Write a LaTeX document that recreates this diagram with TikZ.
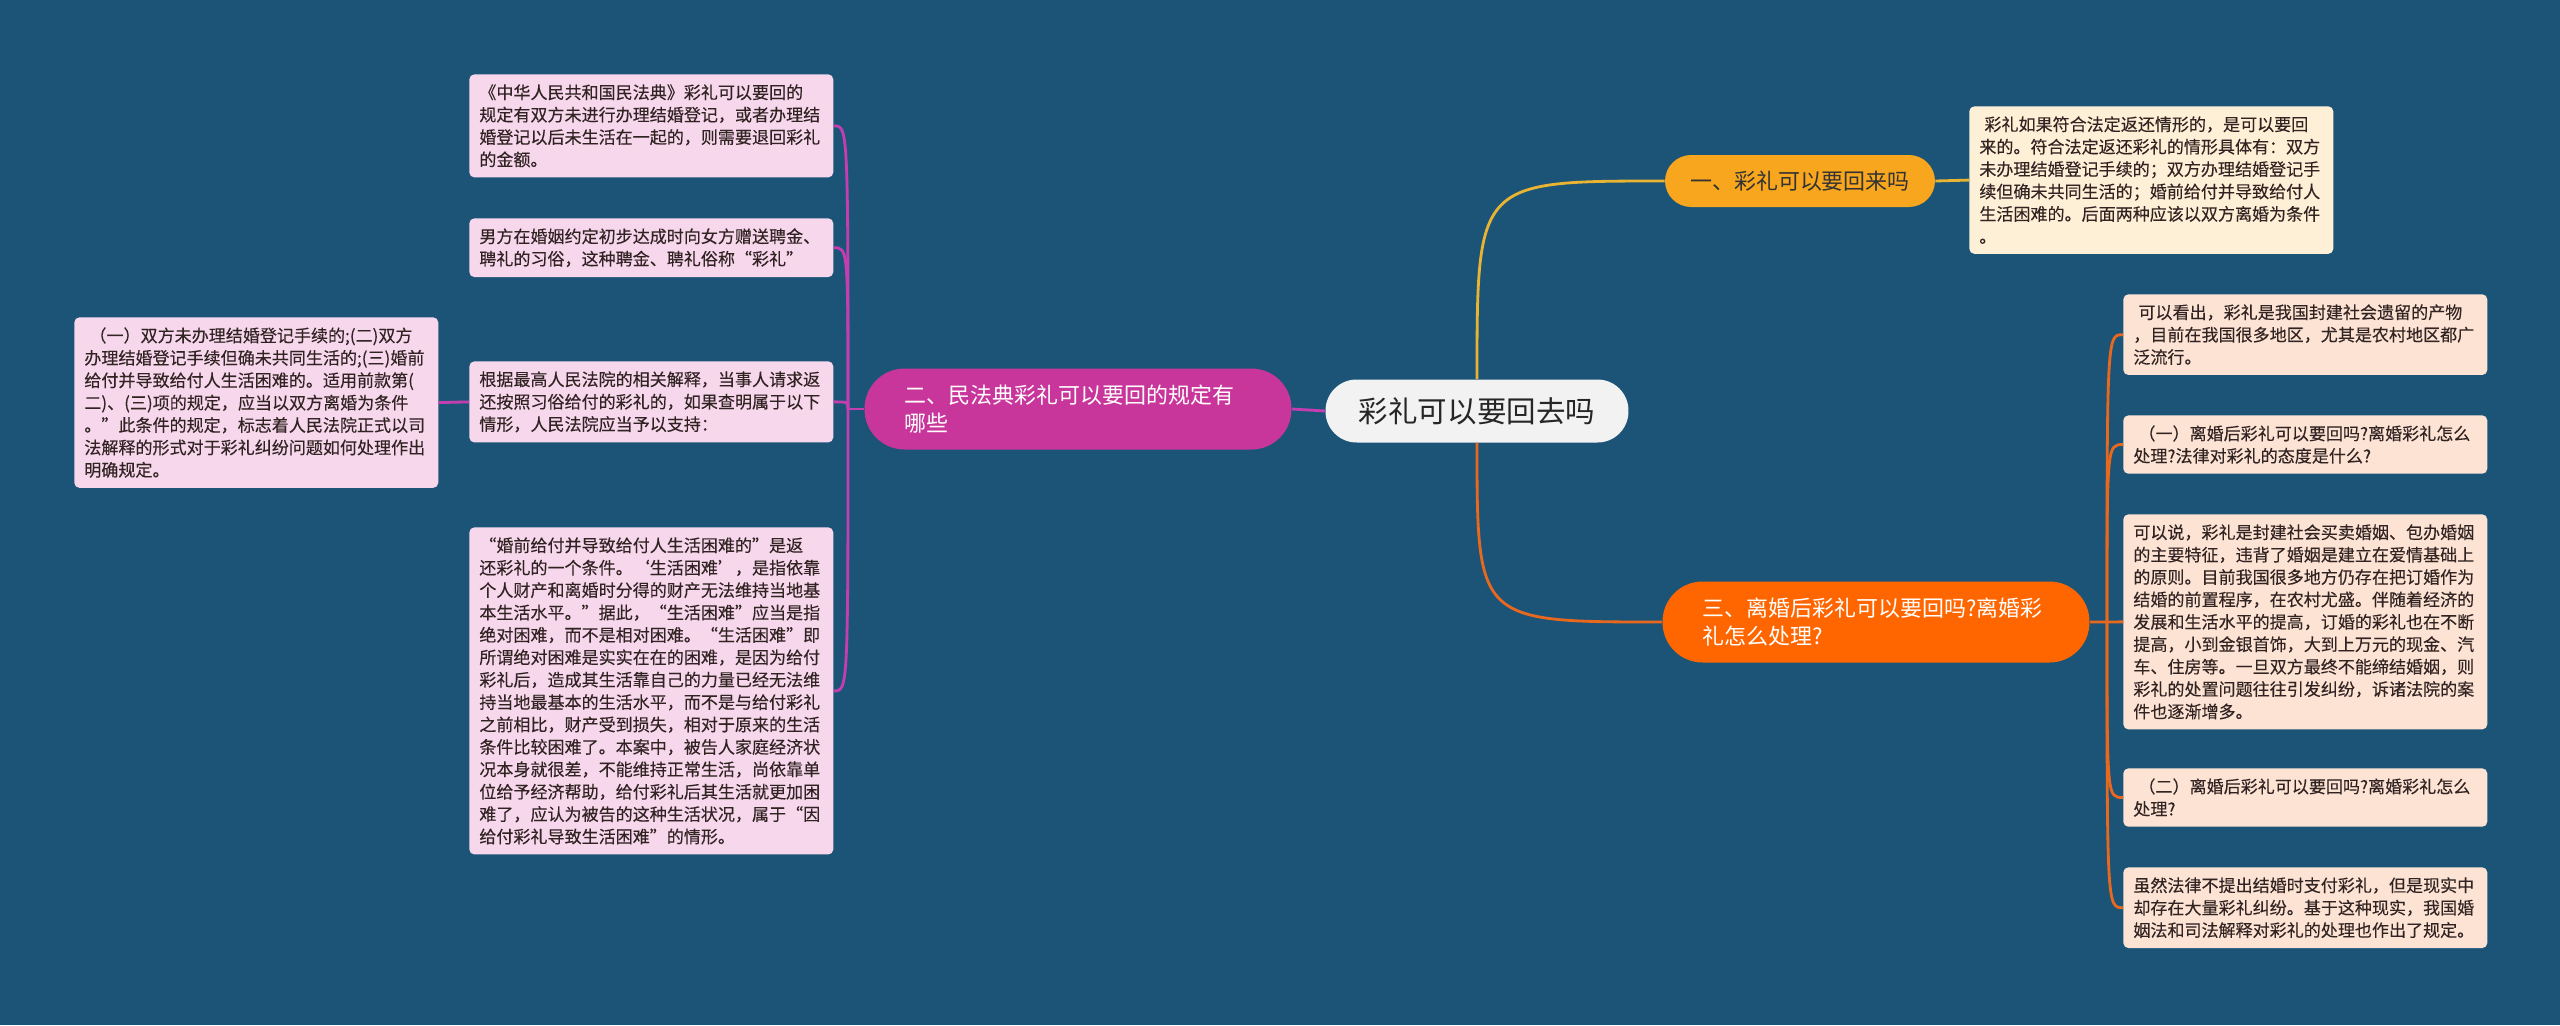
\documentclass[tikz,border=0pt]{standalone}
\usepackage{fontspec}
\setmainfont{Noto Sans CJK SC}
\newfontfamily\leafcjk{Noto Sans CJK SC}[FakeBold=0.2]
\definecolor{bgblue}{RGB}{28,84,120}
\definecolor{ctrfill}{RGB}{242,242,242}
\definecolor{yfill}{RGB}{247,166,30}
\definecolor{mfill}{RGB}{201,54,155}
\definecolor{ofill}{RGB}{255,102,0}
\definecolor{mleaf}{RGB}{246,215,236}
\definecolor{oleaf}{RGB}{253,227,212}
\definecolor{yleaf}{RGB}{254,240,214}
\definecolor{ylink}{RGB}{232,180,50}
\definecolor{mlink}{RGB}{196,62,178}
\definecolor{olink}{RGB}{232,105,30}
\definecolor{leaftext}{RGB}{50,35,35}
\newcommand\leaffont{\leafcjk\fontsize{9.7pt}{12.75pt}\selectfont}
\newcommand\branchfont{\fontsize{12.5pt}{15.9pt}\selectfont}

\begin{document}
\begin{tikzpicture}[x=0.02cm,y=0.02cm,
  leaf/.style={anchor=north west,align=left,text width=6.88cm,inner xsep=0.2cm,
    inner ysep=0.2cm,rounded corners=0.1cm,font=\leaffont,text=leaftext},
  branch/.style={align=left,text width=6.94cm,inner xsep=0.8cm,inner ysep=0pt,
    minimum height=1.62cm,rounded corners=0.8cm,font=\branchfont,text=white},
  link/.style={line width=1.6pt}]
  \fill[bgblue] (0,0) rectangle (2560,-1025);

  % centre and main branches
  \node[fill=ctrfill,rounded corners=0.62cm,minimum width=6.06cm,minimum height=1.26cm,
    font=\fontsize{16.8pt}{20pt}\selectfont,text=black!85] (c) at (1477,-411) {彩礼可以要回去吗};
  \node[fill=yfill,rounded corners=0.52cm,minimum width=5.4cm,minimum height=1.04cm,
    font=\branchfont,text=black!80] (b1) at (1800,-181) {一、彩礼可以要回来吗};
  \node[branch,fill=mfill] (b2) at (1078,-409) {二、民法典彩礼可以要回的规定有\\哪些};
  \node[branch,fill=ofill] (b3) at (1876,-622) {三、离婚后彩礼可以要回吗?离婚彩\\礼怎么处理?};

  % branch 1
  \node[leaf,fill=yleaf] (r1) at (1969,-106) {\hspace{0.3em}彩礼如果符合法定返还情形的，是可以要回\\来的。符合法定返还彩礼的情形具体有：双方\\未办理结婚登记手续的；双方办理结婚登记手\\续但确未共同生活的；婚前给付并导致给付人\\生活困难的。后面两种应该以双方离婚为条件\\。};

  % branch 2
  \node[leaf,fill=mleaf] (m1) at (469,-74) {《中华人民共和国民法典》彩礼可以要回的\\规定有双方未进行办理结婚登记，或者办理结\\婚登记以后未生活在一起的，则需要退回彩礼\\的金额。};
  \node[leaf,fill=mleaf] (m2) at (469,-218) {男方在婚姻约定初步达成时向女方赠送聘金、\\聘礼的习俗，这种聘金、聘礼俗称“彩礼”};
  \node[leaf,fill=mleaf] (m3) at (469,-361) {根据最高人民法院的相关解释，当事人请求返\\还按照习俗给付的彩礼的，如果查明属于以下\\情形，人民法院应当予以支持：};
  \node[leaf,fill=mleaf] (m4) at (469,-527) {“婚前给付并导致给付人生活困难的”是返\\还彩礼的一个条件。‘生活困难’，是指依靠\\个人财产和离婚时分得的财产无法维持当地基\\本生活水平。”据此，“生活困难”应当是指\\绝对困难，而不是相对困难。“生活困难”即\\所谓绝对困难是实实在在的困难，是因为给付\\彩礼后，造成其生活靠自己的力量已经无法维\\持当地最基本的生活水平，而不是与给付彩礼\\之前相比，财产受到损失，相对于原来的生活\\条件比较困难了。本案中，被告人家庭经济状\\况本身就很差，不能维持正常生活，尚依靠单\\位给予经济帮助，给付彩礼后其生活就更加困\\难了，应认为被告的这种生活状况，属于“因\\给付彩礼导致生活困难”的情形。};
  \node[leaf,fill=mleaf] (m5) at (74,-317) {\hspace{0.3em}（一）双方未办理结婚登记手续的;(二)双方\\办理结婚登记手续但确未共同生活的;(三)婚前\\给付并导致给付人生活困难的。适用前款第(\\二)、(三)项的规定，应当以双方离婚为条件\\。”此条件的规定，标志着人民法院正式以司\\法解释的形式对于彩礼纠纷问题如何处理作出\\明确规定。};

  % branch 3
  \node[leaf,fill=oleaf] (o1) at (2123,-294) {\hspace{0.3em}可以看出，彩礼是我国封建社会遗留的产物\\，目前在我国很多地区，尤其是农村地区都广\\泛流行。};
  \node[leaf,fill=oleaf] (o2) at (2123,-415) {\hspace{0.3em}（一）离婚后彩礼可以要回吗?离婚彩礼怎么\\处理?法律对彩礼的态度是什么?};
  \node[leaf,fill=oleaf] (o3) at (2123,-514) {可以说，彩礼是封建社会买卖婚姻、包办婚姻\\的主要特征，违背了婚姻是建立在爱情基础上\\的原则。目前我国很多地方仍存在把订婚作为\\结婚的前置程序，在农村尤盛。伴随着经济的\\发展和生活水平的提高，订婚的彩礼也在不断\\提高，小到金银首饰，大到上万元的现金、汽\\车、住房等。一旦双方最终不能缔结婚姻，则\\彩礼的处置问题往往引发纠纷，诉诸法院的案\\件也逐渐增多。};
  \node[leaf,fill=oleaf] (o4) at (2123,-768) {\hspace{0.3em}（二）离婚后彩礼可以要回吗?离婚彩礼怎么\\处理?};
  \node[leaf,fill=oleaf] (o5) at (2123,-867) {虽然法律不提出结婚时支付彩礼，但是现实中\\却存在大量彩礼纠纷。基于这种现实，我国婚\\姻法和司法解释对彩礼的处理也作出了规定。};

  \coordinate (mbus) at (848,-409);
  \coordinate (obus) at (2107,-622);

  % connectors
  \draw[link,ylink] (c.north) .. controls (c.north |- b1.west) .. (b1.west);
  \draw[link,ylink] (b1.east) -- (r1.west);
  \draw[link,olink] (c.south) .. controls (c.south |- b3.west) .. (b3.west);
  \draw[link,mlink] (b2.east) -- (c.west);
  \draw[link,mlink] (b2.west) -- (mbus);
  \foreach \n in {m1,m2,m3,m4}
    \draw[link,mlink] (mbus) .. controls (mbus |- \n.east) .. (\n.east);
  \draw[link,mlink] (m3.west) -- (m5.east);
  \draw[link,olink] (b3.east) -- (obus) -- (o3.west);
  \foreach \n in {o1,o2,o4,o5}
    \draw[link,olink] (obus) .. controls (obus |- \n.west) .. (\n.west);
\end{tikzpicture}
\end{document}
